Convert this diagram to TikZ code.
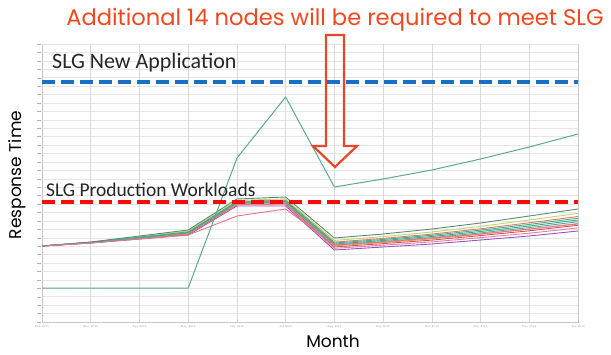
\documentclass[tikz,border=0pt]{standalone}
\usepackage{fontspec}
\newfontfamily\headfont{Poppins}
\newfontfamily\calfont{Carlito}
\definecolor{titlered}{RGB}{240,72,32}
\definecolor{arrowred}{RGB}{232,70,40}
\definecolor{slgblue}{RGB}{24,112,196}
\definecolor{slgred}{RGB}{250,10,10}
\definecolor{gridgray}{RGB}{230,230,230}
\definecolor{axisgray}{RGB}{200,200,200}
\definecolor{spikegreen}{RGB}{92,170,140}
\definecolor{sGray}{RGB}{94,138,120}
\definecolor{sYellow}{RGB}{184,218,104}
\definecolor{sSalmon}{RGB}{226,116,110}
\definecolor{sTeal}{RGB}{76,172,150}
\definecolor{sGreen}{RGB}{60,178,110}
\definecolor{sCyan}{RGB}{88,166,184}
\definecolor{sOrange}{RGB}{230,158,90}
\definecolor{sRed}{RGB}{210,84,84}
\definecolor{sPink}{RGB}{226,128,160}
\definecolor{sPurple}{RGB}{160,80,192}
\tikzset{
  gridline/.style={gridgray, line width=0.5pt},
  axisline/.style={axisgray, line width=0.7pt},
  series/.style={line width=0.9pt, line join=round},
  slgline/.style={line width=4.2pt, dash pattern=on 13pt off 6pt},
  xlabel/.style={gray, font=\fontsize{2.6}{3}\selectfont, inner sep=0pt},
  bigtext/.style={text=black!85, font=\calfont\fontsize{19.5}{22}\selectfont, inner sep=0pt, anchor=west},
}
% month positions and the envelope of the bundle of workloads
\def\Ty{{246,242,236,230,199,197,238,234,229,223,216,209}}
\def\By{{246,243,239,235,206,206,250,247,244,240,236,231}}
\begin{document}
\begin{tikzpicture}[x=1pt,y=-1pt]
\useasboundingbox[fill=white] (0,0) rectangle (611,354);

% grid
\foreach \k in {0,...,33}
  \draw[gridline] (42,{44+\k*278/33}) -- (578,{44+\k*278/33});
\foreach \i in {0,...,11}
  \draw[gridline, gray!30] ({42+\i*48.727},44) -- ({42+\i*48.727},322);
\foreach \k in {0,...,33}
  \draw[gray!60, line width=0.4pt] (37,{44+\k*278/33}) -- (40.5,{44+\k*278/33});
\draw[axisline] (42,44) -- (42,322) -- (578,322) -- (578,44);

% month labels
\foreach \m [count=\i from 0] in {Feb 2015,Mar 2015,Apr 2015,May 2015,Jun 2015,Jul 2015,Aug 2015,Sep 2015,Oct 2015,Nov 2015,Dec 2015,Jan 2016}
  \node[xlabel] (m\i) at ({42+\i*48.727},327) {\m};

% workload series
\foreach \col/\t in {sPurple/1.0,sPink/0.86,sRed/0.74,sOrange/0.66,sCyan/0.58,sSalmon/0.34,sYellow/0.2,sGreen/0.5,sTeal/0.42,sGray/0}
  \draw[series, \col] (42,246) \foreach \i in {1,...,11}{ -- ({42+\i*48.727},{\Ty[\i]+\t*(\By[\i]-\Ty[\i])}) };
\draw[series, sPink!90!red] (42,246) -- (90.7,243) -- (139.5,239) -- (188.2,235) -- (237,216) -- (285.6,209) -- (334.4,245) -- (383,242) -- (431.8,238) -- (480.5,234) -- (529.3,229) -- (578,224);

% new application series
\draw[series, spikegreen, line width=1pt] (42,288) -- (90.7,288) -- (139.5,288) -- (188.2,288) -- (237,158) -- (285.6,97) -- (334.4,187) -- (383,179) -- (431.8,170) -- (480.5,159) -- (529.3,147) -- (578,134);

% service level goals
\draw[slgline, slgblue] (42,82) -- (578,82);
\draw[slgline, slgred] (42,202) -- (578,202);

% arrow
\draw[arrowred, line width=2.2pt, line join=miter] (326,35) -- (344,35) -- (344,146) -- (357,146) -- (335,167) -- (313,146) -- (326,146) -- cycle;

% texts
\node[text=titlered, font=\headfont\fontsize{22.6}{26}\selectfont, inner sep=0pt] (title) at (335,20) {Additional 14 nodes will be required to meet SLG};
\node[bigtext, font=\calfont\fontsize{22}{25}\selectfont] (newapp) at (52,63) {SLG New Application};
\node[bigtext] (prod) at (46,190) {SLG Production Workloads};
\node[font=\headfont\fontsize{17}{20}\selectfont, rotate=90, inner sep=0pt] (ylab) at (17,175) {Response Time};
\node[font=\headfont\fontsize{17}{20}\selectfont, inner sep=0pt] (xlab) at (333,341) {Month};
\end{tikzpicture}
\end{document}
